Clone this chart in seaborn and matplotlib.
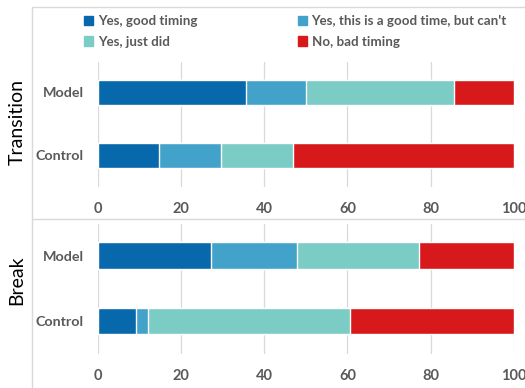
"""Stacked horizontal bars: timing ratings for Model vs Control, two panels."""

import pandas as pd
import seaborn as sns
import matplotlib.pyplot as plt
from matplotlib.lines import Line2D
from matplotlib.patches import Patch

# --- Data -----------------------------------------------------------------
groups = ["Model", "Control"]
responses = [
    "Yes, good timing",
    "Yes, this is a good time, but can't",
    "Yes, just did",
    "No, bad timing",
]
transition_values = [
    [35.6, 14.4, 35.7, 14.3],  # Model
    [14.7, 14.8, 17.5, 53.0],  # Control
]
break_values = [
    [27.2, 20.6, 29.4, 22.8],  # Model
    [9.2, 2.8, 48.6, 39.4],  # Control
]
x_ticks = [0, 20, 40, 60, 80, 100]
colors = ["#0868ac", "#43a2ca", "#7bccc4", "#d7191c"]
TEXT_GRAY = "#595959"


def to_frame(values):
    """Long table with cumulative ends for each segment."""
    rows = []
    for g, vals in zip(groups, values):
        total = 0.0
        for r, v in zip(responses, vals):
            total += v
            rows.append({"group": g, "response": r, "end": total})
    return pd.DataFrame(rows)


def draw_panel(ax, values):
    df = to_frame(values)
    # draw from the outermost segment inwards so the shorter bars sit on top
    for resp, col in reversed(list(zip(responses, colors))):
        sub = df[df["response"] == resp]
        sns.barplot(data=sub, x="end", y="group", order=groups, color=col,
                    width=0.4, saturation=1, ax=ax, errorbar=None)
    ax.set_xlim(0, 100)
    ax.set_ylim(1.5, -0.48)
    ax.set_xticks(x_ticks)
    ax.set_xlabel("")
    ax.set_ylabel("")
    ax.grid(axis="x", color="#d9d9d9", lw=0.9)
    ax.set_axisbelow(True)
    for s in ax.spines.values():
        s.set_visible(False)
    ax.tick_params(length=0, colors=TEXT_GRAY)
    ax.tick_params(axis="x", pad=11, labelsize=10.5)
    ax.tick_params(axis="y", pad=10, labelsize=10.3)
    for t in ax.get_xticklabels() + ax.get_yticklabels():
        t.set_fontweight("bold")


sns.set_style("white")
plt.rcParams["font.family"] = ["Lato", "DejaVu Sans"]

fig = plt.figure(figsize=(5.25, 3.88), dpi=100)
W, H = 525, 388


def px_axes(left, top, right, bottom):
    return fig.add_axes([left / W, 1 - bottom / H, (right - left) / W, (bottom - top) / H])


ax_t = px_axes(97.7, 62, 514, 187)
ax_b = px_axes(97.7, 224, 514, 354)
draw_panel(ax_t, transition_values)
draw_panel(ax_b, break_values)

fig.text(17 / W, 1 - 122 / H, "Transition", rotation=90, fontsize=14,
         ha="center", va="center", color="black")
fig.text(17 / W, 1 - 280 / H, "Break", rotation=90, fontsize=14,
         ha="center", va="center", color="black")

# legend fills column-wise, so reorder to read row by row like the original
order = [0, 2, 1, 3]
handles = [Patch(color=colors[i]) for i in order]
labels = [responses[i] for i in order]
leg = fig.legend(handles, labels, ncol=2, loc="upper left",
                 bbox_to_anchor=(72 / W, 1 - 3 / H), frameon=False,
                 handlelength=0.7, handleheight=0.7, handletextpad=0.35,
                 columnspacing=7.5, labelspacing=0.65, fontsize=9.6)
for t in leg.get_texts():
    t.set_color(TEXT_GRAY)
    t.set_fontweight("bold")

# light frame lines around the chart area
frame = "#d9d9d9"
fig.add_artist(Line2D([32 / W, 1], [1 - 7 / H] * 2, color=frame, lw=1))
fig.add_artist(Line2D([32 / W] * 2, [1 - 7 / H, 0], color=frame, lw=1))
fig.add_artist(Line2D([32 / W, 1], [1 - 219 / H] * 2, color=frame, lw=1))

fig.savefig("out.png", dpi=100)
